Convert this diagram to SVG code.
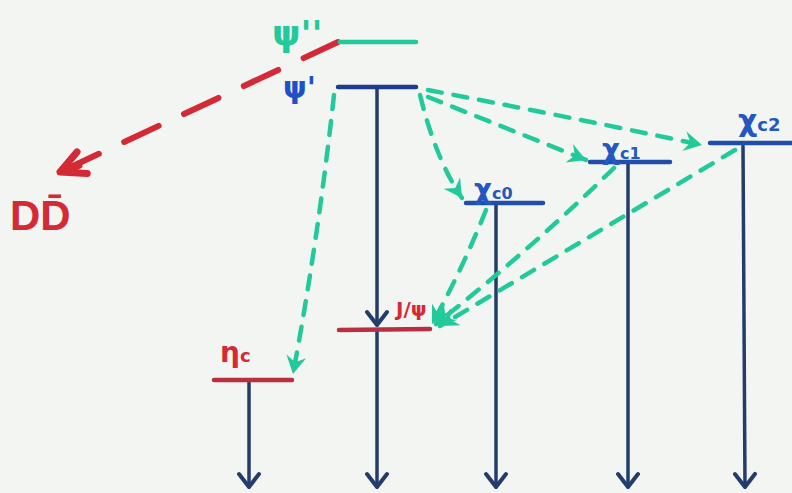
<svg xmlns="http://www.w3.org/2000/svg" width="792" height="493" viewBox="0 0 792 493">
<defs>
<style>
.lvl{stroke-width:4.5;stroke-linecap:round;fill:none}
.dark{stroke:#243c6c;stroke-width:3.5;fill:none;stroke-linecap:round}
.grn{stroke:#22c99a;stroke-width:4.5;fill:none;stroke-dasharray:14 12;stroke-linecap:round}
.red{stroke:#d42a36;stroke-width:6;fill:none;stroke-dasharray:38 28;stroke-linecap:round}
.lbl{font-family:"DejaVu Sans",sans-serif;font-weight:bold}
.chi{fill:#2457c0}
</style>
<marker id="ad" viewBox="-16 -12 20 24" refX="0" refY="0" markerWidth="20" markerHeight="24" markerUnits="userSpaceOnUse" orient="auto">
<path d="M-13,-10 L0,0 L-13,10" fill="none" stroke="#243c6c" stroke-width="4" stroke-linecap="round" stroke-linejoin="round"/>
</marker>
<marker id="ag" viewBox="-20 -12 22 24" refX="0" refY="0" markerWidth="22" markerHeight="24" markerUnits="userSpaceOnUse" orient="auto">
<path d="M-18,-10 L0,0 L-18,10 L-12,0 Z" fill="#22c99a"/>
</marker>
<marker id="ar" viewBox="-30 -18 34 36" refX="0" refY="0" markerWidth="34" markerHeight="36" markerUnits="userSpaceOnUse" orient="auto">
<path d="M-24,-13 L0,0 L-24,11 M-20,-2 L0,0" fill="none" stroke="#d42a36" stroke-width="7" stroke-linecap="round" stroke-linejoin="round"/>
</marker>
</defs>
<rect width="792" height="493" fill="#f3f5f3"/>

<g id="connectors">
<path class="red" d="M338,42 L60,172" marker-end="url(#ar)"/>
<path class="dark" d="M377,88 L377,325" marker-end="url(#ad)"/>
<path class="dark" d="M377,332 L377,487" marker-end="url(#ad)"/>
<path class="dark" d="M249,381 L249,487" marker-end="url(#ad)"/>
<path class="dark" d="M496,205 L496,487" marker-end="url(#ad)"/>
<path class="dark" d="M628,163 L628,487" marker-end="url(#ad)"/>
<path class="dark" d="M743,146 L745,487" marker-end="url(#ad)"/>
<path class="grn" d="M334,95 Q318,240 293,374" marker-end="url(#ag)"/>
<path class="grn" d="M420,95 Q436,160 462,198" marker-end="url(#ag)"/>
<path class="grn" d="M428,97 L586,160" marker-end="url(#ag)"/>
<path class="grn" d="M428,90 Q560,115 702,145" marker-end="url(#ag)"/>
<path class="grn" d="M486,210 Q462,270 432,324" marker-end="url(#ag)"/>
<path class="grn" d="M614,168 Q530,250 436,324" marker-end="url(#ag)"/>
<path class="grn" d="M735,150 L440,326" marker-end="url(#ag)"/>
</g>

<g id="psi2S3770">
<line class="lvl" x1="340" y1="42" x2="416" y2="42" stroke="#22c99a"/>
<text class="lbl" x="272" y="46" font-size="36" fill="#22c99a">ψ''</text>
</g>
<g id="psi2S">
<line class="lvl" x1="338" y1="87" x2="416" y2="87" stroke="#1e3c8c"/>
<text class="lbl" x="283" y="98" font-size="30" fill="#2050c8">ψ'</text>
</g>
<g id="DDbar">
<text x="10" y="230" font-family="Liberation Sans, sans-serif" font-weight="bold" font-size="42" fill="#d42a36">DD̄</text>
</g>
<g id="chic0">
<line class="lvl" x1="466" y1="203" x2="543" y2="203" stroke="#1f4fa8"/>
<text class="lbl chi" x="474" y="199" font-size="28">χ<tspan font-size="16">c0</tspan></text>
</g>
<g id="chic1">
<line class="lvl" x1="590" y1="162" x2="670" y2="162" stroke="#1f4fa8"/>
<text class="lbl chi" x="602" y="159" font-size="28">χ<tspan font-size="16">c1</tspan></text>
</g>
<g id="chic2">
<line class="lvl" x1="710" y1="143" x2="792" y2="143" stroke="#1f4fa8"/>
<text class="lbl chi" x="738" y="131" font-size="30">χ<tspan font-size="18">c2</tspan></text>
</g>
<g id="jpsi">
<line class="lvl" x1="339" y1="330" x2="430" y2="329" stroke="#b83040"/>
<text class="lbl" x="396" y="316" font-size="20" fill="#d42a36">J/ψ</text>
</g>
<g id="etac">
<line class="lvl" x1="214" y1="380" x2="292" y2="380" stroke="#b83040"/>
<text class="lbl" x="220" y="362" font-size="28" fill="#d42a36">η<tspan font-size="18">c</tspan></text>
</g>
</svg>
